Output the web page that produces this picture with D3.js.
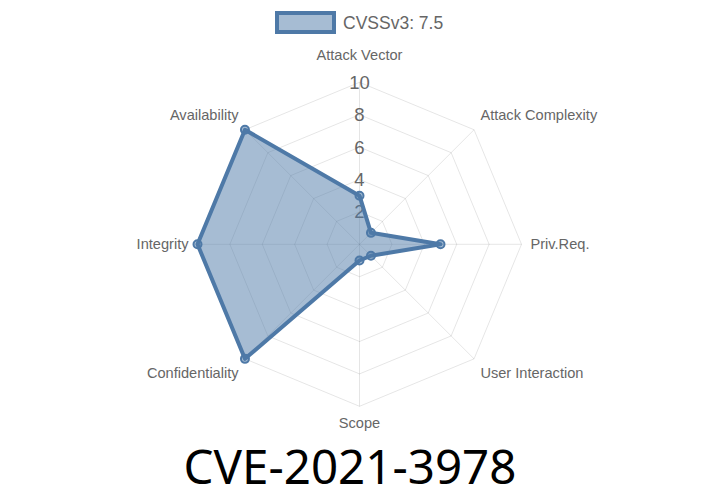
<!DOCTYPE html>
<html><head><meta charset="utf-8">
<script src="https://cdn.jsdelivr.net/npm/d3@7"></script>
<style>body{margin:0;background:#fff}svg{display:block}</style>
</head><body>
<svg id="c" width="720" height="504"></svg>
<script>
const axes = ["Attack Vector","Attack Complexity","Priv.Req.","User Interaction","Scope","Confidentiality","Integrity","Availability"];
const values = [3, 1, 5, 1, 1, 10, 10, 10];
const ticks = [2, 4, 6, 8, 10];
const seriesLabel = "CVSSv3: 7.5";
const title = "CVE-2021-3978";

const svg = d3.select("#c");
const cx = 359.5, cy = 244.3, R = 162;
const color = "#4e79a7", fillC = "rgba(78,121,167,0.5)";
const r = d3.scaleLinear().domain([0, 10]).range([0, R]);
const ang = d3.scalePoint().domain(axes).range([0, 2*Math.PI*(axes.length-1)/axes.length]);
const pt = (a, v) => [cx + r(v)*Math.sin(ang(a)), cy - r(v)*Math.cos(ang(a))];
const FF = "Liberation Sans, Arial, sans-serif";

const g = svg.append("g");
ticks.forEach(t => {
  g.append("polygon").attr("points", axes.map(a => pt(a, t).join(",")).join(" "))
   .attr("fill","none").attr("stroke","rgba(0,0,0,0.1)").attr("stroke-width",1);
});
axes.forEach(a => {
  const [x,y] = pt(a, 10);
  g.append("line").attr("x1",cx).attr("y1",cy).attr("x2",x).attr("y2",y)
   .attr("stroke","rgba(0,0,0,0.1)").attr("stroke-width",1);
});
ticks.forEach(t => {
  g.append("text").attr("x",cx).attr("y",cy - r(t)).attr("text-anchor","middle")
   .attr("dominant-baseline","central").attr("font-family",FF)
   .attr("font-size",18.5).attr("fill","#666").text(t);
});
axes.forEach(a => {
  const th = ang(a), s = Math.sin(th), c = Math.cos(th);
  const LR = 171;
  let x = cx + LR*s, y = cy - LR*c;
  let anchor = Math.abs(s) < 0.01 ? "middle" : (s > 0 ? "start" : "end");
  if (Math.abs(s) < 0.01) { y += c > 0 ? -18 : 8; }
  else if (c > 0.01) y -= 8; else if (c < -0.01) y += 8;
  g.append("text").attr("x",x).attr("y",y).attr("text-anchor",anchor)
   .attr("dominant-baseline","central").attr("font-family",FF)
   .attr("font-size",14.6).attr("fill","#666").text(a);
});
const line = d3.lineRadial().angle(d => ang(d.a)).radius(d => r(d.v)).curve(d3.curveLinearClosed);
const data = axes.map((a,i) => ({a, v: values[i]}));
g.append("path").attr("transform",`translate(${cx},${cy})`).attr("d", line(data))
 .attr("fill",fillC).attr("stroke",color).attr("stroke-width",4).attr("stroke-linejoin","round");
data.forEach(d => {
  const [x,y] = pt(d.a, d.v);
  g.append("circle").attr("cx",x).attr("cy",y).attr("r",4).attr("fill",fillC).attr("stroke",color).attr("stroke-width",2);
});
svg.append("rect").attr("x",277).attr("y",13).attr("width",57).attr("height",19)
  .attr("fill",fillC).attr("stroke",color).attr("stroke-width",4);
svg.append("text").attr("x",343).attr("y",23).attr("dominant-baseline","central")
  .attr("font-family",FF).attr("font-size",17.5).attr("fill","#666").text(seriesLabel);
svg.append("text").attr("x",350).attr("y",484).attr("text-anchor","middle")
  .attr("font-family","Noto Sans, Open Sans, sans-serif").attr("font-size",47.5).attr("fill","#000").text(title);
</script>
</body></html>
